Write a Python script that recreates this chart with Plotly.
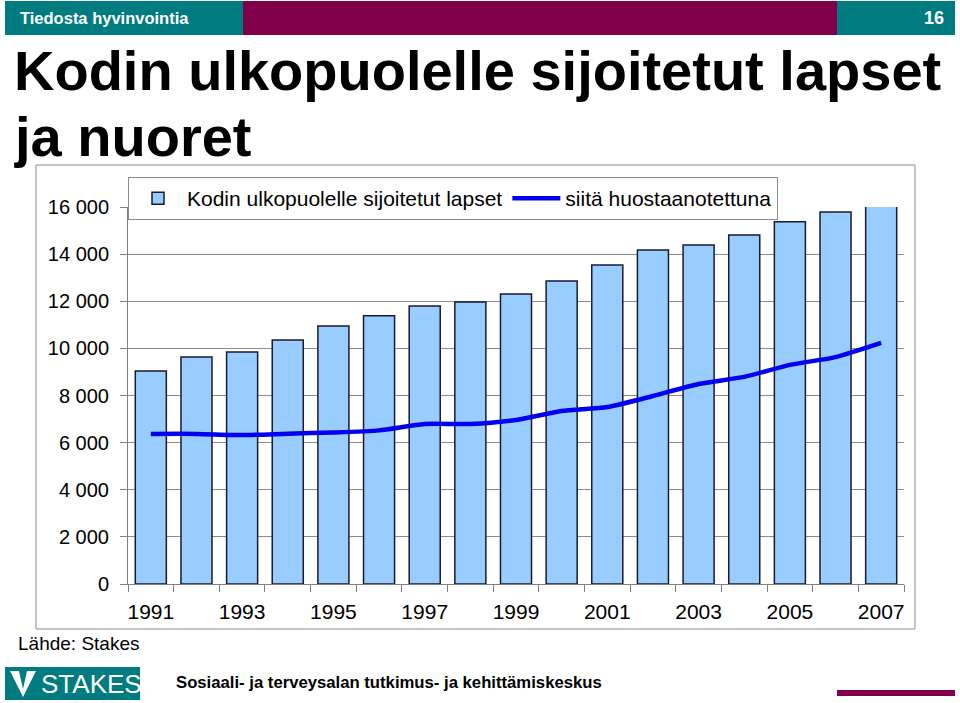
import plotly.graph_objects as go

years = list(range(1991, 2008))
placed_total = [9040, 9630, 9850, 10360, 10950, 11380, 11800, 11970, 12310, 12860,
                13540, 14180, 14390, 14810, 15370, 15790, 16040]
custody = [6370, 6370, 6320, 6380, 6430, 6520, 6790, 6790, 6960, 7340,
           7510, 7980, 8490, 8790, 9300, 9630, 10230]
xtick_years = [1991, 1993, 1995, 1997, 1999, 2001, 2003, 2005, 2007]
ytick_vals = [0, 2000, 4000, 6000, 8000, 10000, 12000, 14000, 16000]
ytick_text = ["0", "2 000", "4 000", "6 000", "8 000", "10 000", "12 000", "14 000", "16 000"]

W, H = 960, 703
L, R, T, B = 128, 904, 207, 584
TEAL = "#007B80"
MAROON = "#80004A"
FONT = "Liberation Sans, Arial"


def px(x):
    return (x - L) / (R - L)


def py(y):
    return (B - y) / (B - T)


fig = go.Figure()
fig.add_trace(go.Bar(
    x=years, y=placed_total, name="Kodin ulkopuolelle sijoitetut lapset",
    marker=dict(color="#99CCFF", line=dict(color="#1a1a2e", width=1.5)),
    cliponaxis=False,
))
fig.add_trace(go.Scatter(
    x=years, y=custody, name="siitä huostaanotettuna", mode="lines",
    line=dict(color="#0000F0", width=4.5, shape="spline", smoothing=0.6),
))

shapes = []
# header bars
shapes.append(dict(type="rect", xref="paper", yref="paper", x0=px(5), x1=px(243), y0=py(1), y1=py(35),
                   fillcolor=TEAL, line=dict(width=0), layer="below"))
shapes.append(dict(type="rect", xref="paper", yref="paper", x0=px(243), x1=px(837), y0=py(1), y1=py(35),
                   fillcolor=MAROON, line=dict(width=0), layer="below"))
shapes.append(dict(type="rect", xref="paper", yref="paper", x0=px(837), x1=px(955), y0=py(1), y1=py(35),
                   fillcolor=TEAL, line=dict(width=0), layer="below"))
# chart frame
shapes.append(dict(type="rect", xref="paper", yref="paper", x0=px(36), x1=px(915), y0=py(165), y1=py(629),
                   fillcolor="rgba(0,0,0,0)", line=dict(color="#8c8c8c", width=1), layer="below"))
# footer logo box
shapes.append(dict(type="rect", xref="paper", yref="paper", x0=px(5), x1=px(140), y0=py(667), y1=py(700),
                   fillcolor=TEAL, line=dict(width=0)))
# V mark in logo
vx0, vy0 = 10, 671
shapes.append(dict(type="path", xref="paper", yref="paper",
                   path=f"M {px(vx0)} {py(vy0)} L {px(vx0 + 26)} {py(vy0)} L {px(vx0 + 13)} {py(vy0 + 26)} Z",
                   fillcolor="white", line=dict(width=0)))
shapes.append(dict(type="path", xref="paper", yref="paper",
                   path=f"M {px(vx0 + 9)} {py(vy0)} L {px(vx0 + 17)} {py(vy0)} L {px(vx0 + 13)} {py(vy0 + 18)} Z",
                   fillcolor=TEAL, line=dict(width=0)))
# footer maroon bar
shapes.append(dict(type="rect", xref="paper", yref="paper", x0=px(837), x1=px(955), y0=py(690), y1=py(696),
                   fillcolor=MAROON, line=dict(width=0)))

annotations = [
    dict(text="<b>Tiedosta hyvinvointia</b>", x=px(18), y=py(18), xanchor="left", yanchor="middle",
         font=dict(family=FONT, size=16.5, color="white"), showarrow=False,
         xref="paper", yref="paper"),
    dict(text="<b>16</b>", x=px(946), y=py(18), xanchor="right", yanchor="middle",
         font=dict(family=FONT, size=18, color="white"), showarrow=False,
         xref="paper", yref="paper"),
    dict(text="<b>Kodin ulkopuolelle sijoitetut lapset</b>", x=px(12), y=py(70), xanchor="left", yanchor="middle",
         font=dict(family=FONT, size=56, color="black"), showarrow=False,
         xref="paper", yref="paper"),
    dict(text="<b>ja nuoret</b>", x=px(12), y=py(136), xanchor="left", yanchor="middle",
         font=dict(family=FONT, size=56, color="black"), showarrow=False,
         xref="paper", yref="paper"),
    dict(text="Lähde: Stakes", x=px(16), y=py(643), xanchor="left", yanchor="middle",
         font=dict(family=FONT, size=19, color="black"), showarrow=False,
         xref="paper", yref="paper"),
    dict(text="STAKES", x=px(39), y=py(684), xanchor="left", yanchor="middle",
         font=dict(family=FONT, size=26, color="white"),
         showarrow=False, xref="paper", yref="paper"),
    dict(text="<b>Sosiaali- ja terveysalan tutkimus- ja kehittämiskeskus</b>", x=px(174), y=py(682),
         xanchor="left", yanchor="middle",
         font=dict(family=FONT, size=16.7, color="black"), showarrow=False,
         xref="paper", yref="paper"),
]

fig.update_layout(
    width=W, height=H,
    margin=dict(l=L, r=W - R, t=T, b=H - B, pad=0),
    paper_bgcolor="white", plot_bgcolor="white",
    font=dict(family=FONT, size=21, color="black"),
    bargap=0.32,
    showlegend=True,
    legend=dict(orientation="h", x=0, y=py(177), xanchor="left", yanchor="top",
                bgcolor="white", bordercolor="#8c8c8c", borderwidth=1,
                font=dict(size=21), itemwidth=48, tracegroupgap=0),
    shapes=shapes,
    annotations=annotations,
)
fig.update_xaxes(
    range=[1990.5, 2007.5], tickvals=xtick_years, ticktext=[str(y) for y in xtick_years],
    ticks="", showgrid=False, showline=True, linecolor="#808080", linewidth=1,
    ticklabelstandoff=9, tickfont=dict(size=21),
    minor=dict(ticks="outside", tick0=1990.5, dtick=1, ticklen=7, tickcolor="#808080", showgrid=False),
    zeroline=False,
)
fig.update_yaxes(
    range=[0, 16000], tickvals=ytick_vals, ticktext=ytick_text,
    ticks="outside", ticklen=7, tickcolor="#808080",
    showgrid=True, gridcolor="#8c8c8c", gridwidth=1,
    showline=True, linecolor="#808080", linewidth=1, zeroline=False,
    tickfont=dict(size=20), ticklabelstandoff=7,
)

fig.write_html("out.html")
